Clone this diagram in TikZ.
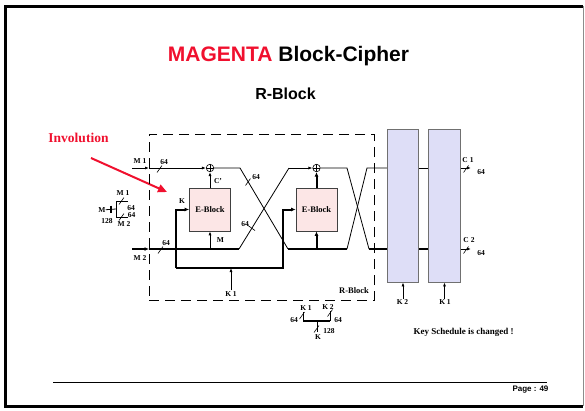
\documentclass[tikz,border=0pt]{standalone}
\usepackage{fontspec}
\setmainfont{Liberation Serif}
\setsansfont{Liberation Sans}
\usepackage{xcolor}
\usepackage{tikz}
\usetikzlibrary{arrows.meta, positioning, calc}
\definecolor{mgred}{HTML}{F0102E}
\definecolor{eblkpink}{HTML}{FCE6E6}
\definecolor{fboxblue}{HTML}{DEDEF7}
\definecolor{fboxgray}{HTML}{707070}
\newcommand{\wbar}[2]{\draw[slash] ([shift={(-2.5,3.5)}]#1,#2) -- ([shift={(2.5,-3.5)}]#1,#2);}
\newcommand{\wbarb}[2]{\draw[slash] ([shift={(-3.5,-2.5)}]#1,#2) -- ([shift={(3.5,2.5)}]#1,#2);}

\begin{document}
\begin{tikzpicture}[x=1pt, y=-1pt,
  lbl/.style={font=\fontsize{7.5}{8}\selectfont\bfseries, inner sep=1pt},
  eblock/.style={rectangle, draw=black!75, fill=eblkpink, line width=0.6pt,
    minimum width=41pt, minimum height=43pt, font=\fontsize{8.5}{9}\selectfont\bfseries},
  fround/.style={rectangle, draw=fboxgray, fill=fboxblue, line width=0.8pt,
    minimum width=31.5pt, minimum height=153pt},
  xor/.style={circle, draw, fill=white, minimum size=7.5pt, inner sep=0pt, line width=0.6pt,
    path picture={\draw (path picture bounding box.north) -- (path picture bounding box.south)
      (path picture bounding box.west) -- (path picture bounding box.east);}},
  sig/.style={-{Latex[length=4pt, width=3pt]}, line width=0.8pt},
  busarr/.style={-{Latex[length=4.5pt, width=4pt]}, line width=2pt},
  wire/.style={line width=0.8pt},
  bus/.style={line width=2pt},
  slash/.style={line width=0.6pt},
]
  \useasboundingbox (0,0) rectangle (585,410);
  % slide frame
  \draw[line width=3pt, line join=miter] (583,6) -- (5,6) -- (5,406) -- (583,406);
  \draw[black!45, line width=1pt] (583,6) -- (583,406);

  \node[font=\fontsize{21}{24}\selectfont\sffamily\bfseries] (title) at (288.5,56)
    {\textcolor{mgred}{MAGENTA} Block-Cipher};
  \node[font=\fontsize{16}{18}\selectfont\sffamily\bfseries] (subtitle) at (285.5,94) {R-Block};
  \node[font=\fontsize{13.5}{15}\selectfont\bfseries, text=mgred] (invol) at (78.5,138) {Involution};
  \coordinate (invfrom) at (91,158);
  \coordinate (invto) at (167,192);
  \draw[mgred, line width=2pt, -{Triangle[length=9pt, width=8pt]}] (invfrom) -- (invto);

  % R-Block frame
  \node[draw, line width=0.8pt, dash pattern=on 10pt off 6pt,
    minimum width=225pt, minimum height=166pt] (rblock) at (261.5,217) {};
  \node[lbl, font=\fontsize{8.5}{9}\selectfont\bfseries] (rblbl) at (354,290.5) {R-Block};

  \node[eblock] (eb1) at (210,209.5) {E-Block};
  \node[eblock] (eb2) at (316.5,209.5) {E-Block};
  \node[xor] (x1) at (210,168) {};
  \node[xor] (x2) at (316.5,168) {};
  \node[fround] (f1) at (403,205.5) {};
  \node[fround] (f2) at (444.5,205.5) {};

  \coordinate (m1in) at (132,168);
  \coordinate (m1gate) at (149,168);
  \coordinate (m2in) at (132,249);
  \coordinate (m2gate) at (149,249);
  \coordinate (m2end) at (239,249);
  \coordinate (x1end) at (240,168);
  \coordinate (crA) at (288,249);
  \coordinate (crB) at (289,168);
  \coordinate (x2end) at (347,168);
  \coordinate (lowend) at (347,249);
  \coordinate (crC) at (369,249);
  \coordinate (crD) at (367,168);
  \coordinate (kbl) at (176,268);
  \coordinate (kbr) at (283,268);
  \coordinate (c1) at (471,168);
  \coordinate (c2) at (471,249);

  % data path
  \draw[sig] (m1in) -- (m1gate);
  \draw[sig] (m1gate) -- (x1);
  \draw[busarr] (m2in) -- (m2gate);
  \draw[bus] (m2gate) -- (m2end);
  \draw[sig] (eb1.south |- m2end) -- (eb1.south);
  \draw[sig] (eb1) -- (x1);
  \draw[wire] (x1) -- (x1end) -- (crA);
  \draw[bus] (crA) -- (lowend);
  \draw[wire] (m2end) -- (crB);
  \draw[sig] (crB) -- (x2);
  \draw[busarr] (eb2.south |- crA) -- (eb2.south);
  \draw[busarr] (eb2) -- (x2);
  \draw[wire] (x2) -- (x2end) -- (crC);
  \draw[bus] (crC) -- (f1.west |- crC);
  \draw[wire] (lowend) -- (crD) -- (f1.west |- crD);
  \draw[wire] (f1.east |- crD) -- (f2.west |- crD);
  \draw[bus] (f1.east |- crC) -- (f2.west |- crC);
  \draw[sig] (f2.east |- crD) -- (c1);
  \draw[sig] (f2.east |- crC) -- (c2);

  % key path
  \draw[busarr] (kbl) |- (eb1.west);
  \draw[busarr] (kbl) -- (kbr) |- (eb2.west);
  \node[lbl] (k1a) at (231,294) {K 1};
  \draw[sig] (k1a.north) -- (k1a.north |- kbl);
  \node[lbl] (k2b) at (402.5,302.5) {K 2};
  \node[lbl] (k1b) at (445,302.5) {K 1};
  \draw[sig] (f1.south |- k2b.north) -- (f1.south);
  \draw[sig] (f2.south |- k1b.north) -- (f2.south);

  % labels
  \node[lbl] (lm1) at (140,161) {M 1};
  \node[lbl] (lm2) at (140,258) {M 2};
  \node[lbl] (w1) at (164,162) {64};
  \node[lbl] (w2) at (166,243) {64};
  \wbar{159.5}{169}
  \wbar{160.5}{250}
  \node[lbl] (lk) at (182,201.5) {K};
  \node[lbl] (lc) at (218,181.5) {C'};
  \node[lbl] (lmm) at (220.5,240) {M};
  \node[lbl] (w3) at (256,177) {64};
  \node[lbl] (w4) at (245,224) {64};
  \wbar{248}{182}
  \wbarb{251.5}{228}

  % outputs
  \node[lbl] (lc1) at (468,160) {C 1};
  \node[lbl] (w5) at (481,172) {64};
  \node[lbl] (lc2) at (469,240.5) {C 2};
  \node[lbl] (w6) at (481,253) {64};
  \wbar{466}{169}
  \wbar{466}{250}

  % M splitter
  \node[lbl, inner sep=0pt] (lm) at (102,210) {M};
  \coordinate (spl) at (116,209);
  \coordinate (splt) at (116,201);
  \coordinate (splb) at (116,217);
  \coordinate (sptip1) at (128,201);
  \coordinate (sptip2) at (128,217);
  \draw[wire] (lm) -- (spl);
  \draw[wire] (splt) -- (splb);
  \draw[wire] (splt) -- (sptip1);
  \draw[wire] (splb) -- (sptip2);
  \draw[line width=1.2pt] (111,205.5) -- (111,212.5);
  \wbar{121.5}{201}
  \wbar{121.5}{217}
  \node[lbl] (sm1) at (123,193) {M 1};
  \node[lbl] (s64a) at (131,208.5) {64};
  \node[lbl] (s64b) at (131.5,215.5) {64};
  \node[lbl] (s128) at (107,221) {128};
  \node[lbl] (sm2) at (124,224.5) {M 2};

  % K splitter
  \coordinate (ks1) at (303,312);
  \coordinate (ks1b) at (303,321);
  \coordinate (ks2) at (330,311);
  \coordinate (ks2b) at (330,321);
  \coordinate (ksm) at (317,321);
  \coordinate (ksd) at (317,332);
  \draw[bus] (ks1b) -- (ks2b);
  \draw[wire] (ks1) -- (ks1b);
  \draw[wire] (ks2) -- (ks2b);
  \draw[wire] (ksm) -- (ksd);
  \wbar{302}{315.5}
  \wbar{330}{313}
  \wbar{316.5}{329}
  \node[lbl] (kk1) at (306,308) {K 1};
  \node[lbl] (kk2) at (328,307.5) {K 2};
  \node[lbl] (k64a) at (294,320) {64};
  \node[lbl] (k64b) at (338,320) {64};
  \node[lbl] (k128) at (329,331) {128};
  \node[lbl] (kk) at (318,337) {K};

  \node[font=\fontsize{9}{10}\selectfont\bfseries] (keynote) at (463.5,332) {Key Schedule is changed !};

  % footer
  \coordinate (footl) at (53,382);
  \coordinate (footr) at (547,382);
  \draw[line width=0.8pt] (footl) -- (footr);
  \node[font=\fontsize{8}{9}\selectfont\sffamily\bfseries] (page) at (530.5,389.5) {Page : 49};
\end{tikzpicture}
\end{document}
